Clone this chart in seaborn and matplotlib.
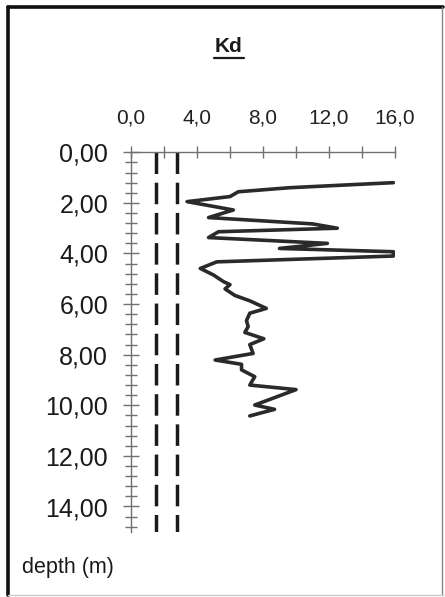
import matplotlib
matplotlib.use('Agg')
import matplotlib.pyplot as plt
import seaborn as sns
from matplotlib.ticker import FixedLocator, MultipleLocator, FuncFormatter
from matplotlib.lines import Line2D

# ---- data ----
kd = [15.9, 9.6, 6.5, 6.0, 3.4, 6.2, 4.7, 11.0, 12.5, 5.3, 4.7, 11.9, 9.0,
      15.9, 15.9, 5.2, 4.2, 5.0, 5.6, 6.0, 5.7, 6.3, 7.2, 8.2, 7.2, 7.0,
      7.1, 6.9, 8.05, 7.2, 7.4, 5.1, 6.7, 6.7, 7.5, 7.2, 10.0, 7.5, 8.7, 7.2]
depth = [1.20, 1.40, 1.56, 1.75, 1.95, 2.28, 2.58, 2.83, 3.00, 3.14, 3.37, 3.60, 3.80,
         3.93, 4.10, 4.33, 4.59, 4.85, 5.11, 5.23, 5.40, 5.66, 5.87, 6.17, 6.36, 6.65,
         6.89, 7.12, 7.37, 7.60, 7.95, 8.21, 8.38, 8.60, 8.87, 9.20, 9.38, 9.99, 10.16, 10.42]
ref_low = 1.5
ref_high = 2.8
ref_depth = [0.0, 15.0]
x_major = [0, 4, 8, 12, 16]
x_minor = [2, 6, 10, 14]
y_major = [0, 2, 4, 6, 8, 10, 12, 14]
title = 'Kd'
depth_label = 'depth (m)'

sns.set_style('white')
plt.rcParams['font.family'] = ['Liberation Sans', 'DejaVu Sans']

W, H = 445, 597
fig = plt.figure(figsize=(W / 100, H / 100), dpi=100)
fig.patch.set_facecolor('white')

ax_top, ax_bot = 152.3, 531.8
ax = fig.add_axes([131 / W, 1 - ax_bot / H, 264 / W, (ax_bot - ax_top) / H])
ax.set_facecolor('white')

sns.lineplot(x=kd, y=depth, sort=False, estimator=None, color='#2a2a2a',
             lw=2.6, ax=ax)
for xv in (ref_low, ref_high):
    sns.lineplot(x=[xv, xv], y=ref_depth, sort=False, estimator=None,
                 color='#1a1a1a', lw=2.5, linestyle=(0, (6.2, 2.5)), ax=ax)

ax.set_xlim(0, 16)
ax.set_ylim(15, 0)
ax.set_xlabel('')
ax.set_ylabel('')

for s in ('right', 'bottom'):
    ax.spines[s].set_visible(False)
for s in ('top', 'left'):
    ax.spines[s].set_color('#707070')
    ax.spines[s].set_linewidth(1.0)

ax.xaxis.tick_top()
ax.xaxis.set_major_locator(FixedLocator(x_major))
ax.xaxis.set_minor_locator(FixedLocator(x_minor))
ax.xaxis.set_major_formatter(FuncFormatter(lambda v, p: f'{v:.1f}'.replace('.', ',')))
ax.tick_params(axis='x', which='both', direction='inout', length=8, width=1,
               color='#707070', top=True, bottom=False)
ax.tick_params(axis='x', which='major', labelsize=15, pad=14, labelcolor='#222222')

ax.yaxis.set_major_locator(FixedLocator(y_major))
ax.yaxis.set_minor_locator(MultipleLocator(0.4))
ax.yaxis.set_major_formatter(FuncFormatter(lambda v, p: f'{v:.2f}'.replace('.', ',')))
ax.tick_params(axis='y', which='major', direction='inout', length=11, width=1,
               color='#707070', labelsize=18, pad=11, labelcolor='#1a1a1a', left=True)
ax.tick_params(axis='y', which='minor', direction='inout', length=8, width=1,
               color='#707070', left=True)

t = fig.text(229 / W, 1 - 47 / H, title, ha='center', va='center',
             fontsize=15, fontweight='bold', color='#1a1a1a')
fig.text(22 / W, 1 - 568 / H, depth_label, ha='left', va='center',
         fontsize=15.5, color='#1a1a1a')

# frame around the chart
fig.add_artist(Line2D([8 / W, 8 / W], [1 - 7 / H, 1 - 595 / H], transform=fig.transFigure,
                      color='#111111', lw=2.6))
fig.add_artist(Line2D([8 / W, 443 / W], [1 - 7 / H, 1 - 7 / H], transform=fig.transFigure,
                      color='#111111', lw=2.6))
fig.add_artist(Line2D([442 / W, 442 / W], [1 - 7 / H, 1 - 595 / H], transform=fig.transFigure,
                      color='#888888', lw=1.0))
fig.add_artist(Line2D([8 / W, 443 / W], [1 - 595 / H, 1 - 595 / H], transform=fig.transFigure,
                      color='#cccccc', lw=1.0))

# underline for title
fig.canvas.draw()
bb = t.get_window_extent(fig.canvas.get_renderer())
uy = (bb.y0 - 1) / H
fig.add_artist(Line2D([(bb.x0 - 1) / W, (bb.x1 + 1) / W], [uy, uy], transform=fig.transFigure,
                      color='#1a1a1a', lw=1.6))

fig.savefig('out.png', dpi=100)
